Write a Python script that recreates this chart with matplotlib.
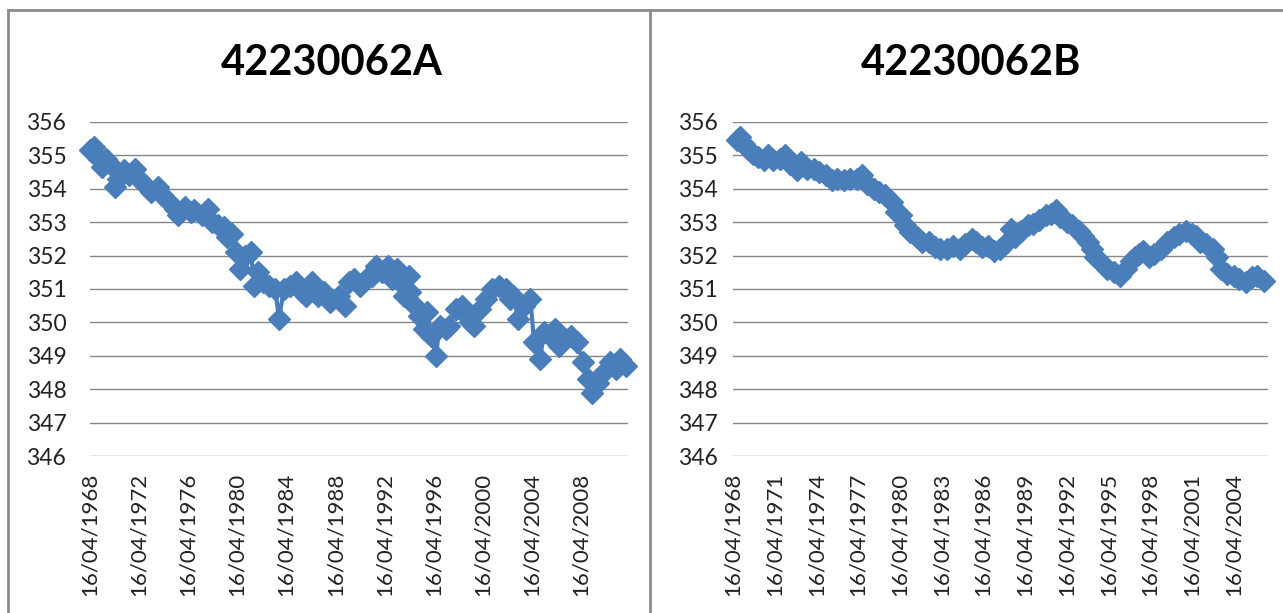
import matplotlib
matplotlib.use("Agg")
import matplotlib.pyplot as plt
from matplotlib.lines import Line2D

# bore 42230062A
years_a = [1968.3, 1968.6, 1969.0, 1969.3, 1969.6, 1970.0, 1970.3, 1970.6, 1971.1, 1971.5,
           1972.0, 1972.3, 1972.8, 1973.3, 1973.8, 1974.2, 1974.7, 1975.2, 1975.5, 1976.0,
           1976.5, 1976.8, 1977.4, 1977.9, 1978.2, 1978.7, 1979.2, 1979.5, 1979.9, 1980.2,
           1980.5, 1980.9, 1981.4, 1981.7, 1982.0, 1982.4, 1982.9, 1983.4, 1983.7, 1984.1,
           1984.6, 1985.1, 1985.6, 1985.9, 1986.4, 1986.9, 1987.4, 1987.9, 1988.6, 1989.1,
           1989.4, 1989.8, 1990.3, 1990.8, 1991.3, 1991.6, 1992.1, 1992.6, 1992.9, 1993.3,
           1993.6, 1993.9, 1994.3, 1994.4, 1994.8, 1995.1, 1995.5, 1995.8, 1996.1, 1996.5,
           1996.8, 1997.3, 1997.6, 1998.1, 1998.6, 1999.0, 1999.3, 1999.6, 2000.1, 2000.6,
           2001.1, 2001.6, 2002.2, 2002.5, 2002.8, 2003.2, 2003.7, 2004.2, 2004.5, 2005.0,
           2005.3, 2005.8, 2006.2, 2006.5, 2007.0, 2007.5, 2008.0, 2008.5, 2008.9, 2009.2,
           2009.7, 2010.2, 2010.7, 2011.2, 2011.5, 2012.0]
level_a = [355.15, 355.25, 354.9, 354.65, 354.9, 354.7, 354.05, 354.3, 354.55, 354.4,
           354.6, 354.3, 354.1, 353.9, 354.05, 353.8, 353.6, 353.4, 353.2, 353.45,
           353.3, 353.35, 353.2, 353.4, 353.0, 352.9, 352.85, 352.55, 352.65, 352.1,
           351.6, 352.0, 352.1, 351.1, 351.5, 351.2, 351.1, 351.0, 350.1, 351.0,
           351.1, 351.2, 350.9, 350.8, 351.2, 350.8, 350.9, 350.6, 350.8, 350.5,
           351.2, 351.3, 351.1, 351.3, 351.4, 351.7, 351.5, 351.7, 351.3, 351.6,
           351.2, 350.8, 351.4, 350.9, 350.5, 350.2, 349.8, 350.3, 349.6, 349.0,
           349.9, 349.8, 349.9, 350.4, 350.5, 350.2, 350.0, 349.9, 350.4, 350.7,
           351.0, 351.1, 351.0, 350.7, 350.8, 350.1, 350.5, 350.7, 349.4, 348.9,
           349.7, 349.6, 349.8, 349.3, 349.5, 349.6, 349.4, 348.8, 348.3, 347.9,
           348.2, 348.5, 348.8, 348.6, 348.9, 348.7]

# bore 42230062B
years_b = [1968.6, 1968.8, 1969.1, 1969.4, 1969.7, 1970.1, 1970.5, 1970.8, 1971.2, 1971.7,
           1972.0, 1972.4, 1972.9, 1973.2, 1973.6, 1974.1, 1974.5, 1975.0, 1975.4, 1975.8,
           1976.3, 1976.7, 1977.2, 1977.6, 1977.9, 1978.4, 1978.8, 1979.2, 1979.7, 1980.0,
           1980.4, 1980.7, 1981.0, 1981.5, 1981.9, 1982.4, 1982.8, 1983.2, 1983.7, 1984.1,
           1984.6, 1985.0, 1985.5, 1985.8, 1986.2, 1986.6, 1987.1, 1987.5, 1988.0, 1988.3,
           1988.6, 1989.0, 1989.5, 1989.9, 1990.3, 1990.8, 1991.2, 1991.5, 1991.8, 1992.3,
           1992.7, 1993.2, 1993.5, 1993.8, 1994.1, 1994.3, 1994.8, 1995.2, 1995.7, 1996.1,
           1996.6, 1996.9, 1997.2, 1997.5, 1997.8, 1998.2, 1998.6, 1999.1, 1999.5, 2000.0,
           2000.4, 2000.9, 2001.3, 2001.6, 2001.9, 2002.3, 2002.8, 2003.1, 2003.4, 2003.8,
           2004.3, 2004.7, 2005.2, 2005.6, 2006.0, 2006.5]
level_b = [355.45, 355.55, 355.35, 355.2, 355.05, 354.95, 354.85, 355.0, 354.85, 354.9,
           355.0, 354.75, 354.55, 354.8, 354.6, 354.6, 354.5, 354.4, 354.25, 354.3,
           354.25, 354.3, 354.3, 354.4, 354.15, 354.0, 353.9, 353.8, 353.6, 353.3,
           353.2, 352.9, 352.7, 352.55, 352.4, 352.4, 352.25, 352.2, 352.2, 352.3,
           352.2, 352.35, 352.5, 352.4, 352.25, 352.3, 352.15, 352.2, 352.4, 352.8,
           352.55, 352.75, 352.9, 352.95, 353.05, 353.2, 353.25, 353.35, 353.15, 353.0,
           352.9, 352.75, 352.6, 352.4, 352.2, 351.95, 351.8, 351.6, 351.5, 351.4,
           351.6, 351.85, 351.95, 352.05, 352.15, 351.95, 352.05, 352.2, 352.4, 352.55,
           352.65, 352.75, 352.65, 352.6, 352.4, 352.35, 352.2, 351.95, 351.6, 351.45,
           351.4, 351.3, 351.2, 351.35, 351.4, 351.25]

ticks_a = list(range(1968, 2009, 4))
ticks_b = list(range(1968, 2005, 3))
yticks = list(range(346, 357))

plt.rcParams['font.family'] = ['Lato', 'DejaVu Sans']

blue = '#4a7ebb'

fig = plt.figure(figsize=(12.83, 6.13), dpi=100)

# title, x, y, ticks, axes rect, xlim, y label pad, title x
panels = [
    ('42230062A', years_a, level_a, ticks_a, [0.0701, 0.2561, 0.4193, 0.545],
     (1968.29, 2012.15), 17, 0.2588),
    ('42230062B', years_b, level_b, ticks_b, [0.5713, 0.2561, 0.4170, 0.545],
     (1968.29, 2006.78), 11, 0.757),
]

for title, xs, ys, ticks, rect, xlim, ypad, tx in panels:
    ax = fig.add_axes(rect)
    ax.plot(xs, ys, color=blue, lw=3, marker='D', ms=11, mec=blue, mfc=blue, clip_on=False)
    ax.set_ylim(346, 356)
    ax.set_xlim(*xlim)
    ax.set_yticks(yticks)
    ax.set_yticklabels([str(v) for v in yticks], fontsize=16.5, color='#222222')
    # 16 April of each label year
    ax.set_xticks([t + 105 / 365 for t in ticks])
    ax.set_xticklabels(['16/04/%d' % t for t in ticks], rotation=90, fontsize=16,
                       color='#222222')
    ax.tick_params(length=0)
    ax.tick_params(axis='x', pad=12)
    ax.tick_params(axis='y', pad=ypad)
    ax.grid(axis='y', color='#868686', lw=1)
    ax.set_axisbelow(True)
    for s in ax.spines.values():
        s.set_visible(False)
    fig.text(tx, 0.898, title, ha='center', va='center', fontsize=30, fontweight='bold')

# frame around the two charts
for xy in [([0.006, 1.0], [0.984, 0.984]), ([0.006, 0.006], [0.0, 0.984]),
           ([0.507, 0.507], [0.0, 0.984])]:
    fig.add_artist(Line2D(xy[0], xy[1], color='#8c8c8c', lw=2))

fig.savefig('out.png', dpi=100)
